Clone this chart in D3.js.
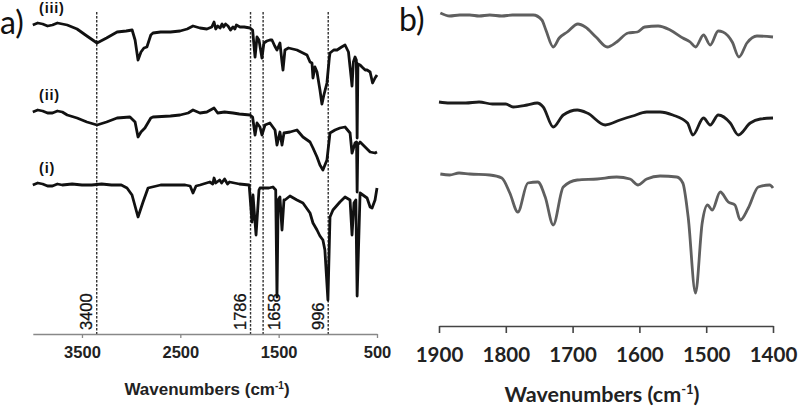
<!DOCTYPE html>
<html><head><meta charset="utf-8">
<script src="https://cdn.jsdelivr.net/npm/d3@7"></script>
<style>body{margin:0;background:#fff} svg{display:block}</style>
</head><body><svg id="c" width="800" height="408"></svg>
<script>
// ---------- DATA ----------
const ticksA = [3500, 2500, 1500, 500];
const ticksB = [1900, 1800, 1700, 1600, 1500, 1400];
const markerWn = [3350, 1786, 1658, 996];
const markerLabels = ["3400", "1786", "1658", "996"];
const seriesLabelsA = ["(iii)", "(ii)", "(i)"];
const axisTitle = "Wavenumbers (cm";

// panel a spectra: [wavenumber, stacked transmittance (a.u.)]
const specA_iii = [[4000,315],[3950,317],[3900,316],[3850,314],[3800,315],[3750,317],[3700,316],[3650,315],[3550,311],[3450,304],[3347,297],[3250,302],[3143,308],[3050,309],[2990,310],[2960,300],[2930,280],[2900,288],[2870,292],[2840,293],[2800,305],[2778,307],[2700,308],[2600,308],[2503,309],[2430,311],[2371,314],[2300,312],[2230,311],[2180,313],[2157,318],[2140,311],[2120,314],[2096,312],[2075,316],[2060,313],[2040,316],[2015,314],[1990,310],[1964,313],[1945,311],[1930,315],[1893,313],[1850,313],[1791,312],[1765,310],[1740,283],[1720,303],[1700,300],[1670,282],[1650,297],[1620,299],[1589,300],[1568,300],[1540,294],[1517,290],[1487,297],[1466,278],[1456,270],[1436,290],[1400,292],[1314,290],[1253,287],[1212,285],[1181,278],[1161,277],[1151,262],[1131,273],[1110,268],[1080,250],[1060,236],[1040,245],[1009,257],[985,282],[978,287],[940,290],[906,290],[860,293],[825,295],[790,288],[774,273],[760,260],[754,254],[740,278],[723,283],[710,280],[702,202],[694,276],[672,275],[652,273],[620,270],[601,270],[570,268],[545,257],[520,262],[500,265]];
const specA_ii = [[4000,228],[3950,230],[3900,229],[3850,227],[3800,227],[3750,229],[3700,228],[3650,225],[3550,222],[3450,218],[3347,215],[3250,218],[3143,222],[3012,223],[2960,218],[2930,203],[2900,208],[2860,212],[2800,222],[2778,223],[2600,224],[2503,225],[2420,227],[2371,230],[2300,227],[2230,228],[2157,232],[2120,227],[2050,228],[1964,227],[1900,226],[1791,225],[1765,223],[1740,205],[1720,217],[1690,213],[1670,205],[1639,215],[1589,217],[1537,210],[1517,195],[1487,208],[1466,195],[1446,207],[1385,208],[1314,210],[1253,203],[1181,198],[1151,192],[1110,183],[1080,175],[1050,170],[1009,180],[978,207],[927,210],[877,212],[825,213],[774,207],[754,187],[723,197],[708,198],[702,148],[695,195],[672,198],[621,193],[570,188],[520,187],[500,188]];
const specA_i = [[4000,155],[3950,157],[3900,156],[3850,154],[3800,154],[3750,156],[3700,155],[3600,156],[3500,155],[3400,155],[3300,156],[3200,155],[3100,155],[3042,152],[2991,145],[2930,123],[2879,138],[2828,152],[2700,155],[2600,155],[2450,155],[2400,154],[2371,147],[2340,154],[2300,155],[2200,158],[2170,156],[2157,162],[2140,157],[2100,160],[2080,157],[2050,161],[2020,156],[2000,158],[1900,156],[1800,155],[1771,118],[1761,145],[1730,105],[1700,150],[1690,152],[1600,152],[1558,153],[1530,150],[1517,43],[1505,140],[1487,143],[1466,110],[1446,140],[1436,140],[1385,144],[1314,140],[1253,137],[1181,127],[1151,117],[1110,110],[1080,104],[1050,100],[1030,90],[999,40],[978,123],[948,130],[877,138],[825,143],[774,140],[754,105],[734,137],[715,140],[702,44],[672,147],[601,142],[570,133],[550,132],[520,140],[500,152]];

// panel b spectra
const specB_top = [[1898,327],[1884,324],[1869,325],[1854,325],[1840,324],[1824,325],[1806,324],[1790,325],[1775,325],[1759,325],[1746,320],[1740,310],[1729,293],[1720,302],[1708,308],[1692,316],[1681,313],[1665,303],[1648,293],[1634,298],[1617,307],[1603,308],[1592,313],[1572,314],[1554,310],[1535,302],[1524,298],[1516,293],[1504,305],[1494,295],[1482,309],[1475,308],[1461,298],[1451,283],[1439,297],[1424,304],[1400,303]];
const specB_mid = [[1900,238],[1884,237],[1860,237],[1840,238],[1820,236],[1800,236],[1789,233],[1768,235],[1753,237],[1744,233],[1729,213],[1714,225],[1693,230],[1678,227],[1651,215],[1629,220],[1610,224],[1589,228],[1569,228],[1550,225],[1528,217],[1520,205],[1504,222],[1494,215],[1482,225],[1464,217],[1452,205],[1434,217],[1419,221],[1400,222]];
const specB_bot = [[1898,166],[1884,165],[1870,167],[1854,166],[1824,165],[1806,162],[1794,147],[1782,128],[1767,157],[1752,158],[1741,143],[1729,115],[1714,153],[1693,160],[1663,161],[1634,163],[1614,161],[1602,155],[1589,161],[1569,164],[1544,163],[1535,157],[1527,123],[1516,47],[1506,117],[1498,135],[1491,130],[1479,148],[1467,138],[1457,135],[1449,120],[1437,132],[1422,153],[1405,155],[1400,152]];

// ---------- RENDER ----------
const svg = d3.select("#c");
const fontA = "'Liberation Sans', Arial, sans-serif";
const fontB = "Lato, 'Open Sans', sans-serif";

const xA = d3.scaleLinear().domain([4000, 500]).range([32.8, 377]);
const yA = d3.scaleLinear().domain([0, 340]).range([340, 0]);
const xB = d3.scaleLinear().domain([1900, 1400]).range([439, 773]);
const yB = d3.scaleLinear().domain([0, 340]).range([340, 0]);

// dashed markers
const gm = svg.append("g");
markerWn.forEach((w, i) => {
  const x = xA(w);
  gm.append("line").attr("x1", x).attr("x2", x).attr("y1", 12).attr("y2", 334)
    .attr("stroke", "#333").attr("stroke-width", 1.4).attr("stroke-dasharray", "2.5,1.5");
  const right = markerLabels[i] === "1658";
  const bx = right ? x + 16.5 : x - 4.5;
  gm.append("text").attr("transform", `translate(${bx},330) rotate(-90)`)
    .attr("font-family", fontA).attr("font-size", 16.5).attr("fill", "#111")
    .attr("stroke", "#111").attr("stroke-width", 0.3)
    .text(markerLabels[i]);
});

// panel a lines
const lineA = d3.line().x(d => xA(d[0])).y(d => yA(d[1]));
const seriesA = [specA_iii, specA_ii, specA_i];
seriesA.forEach((s, i) => {
  svg.append("path").datum(s).attr("d", lineA).attr("fill", "none")
    .attr("stroke", "#111").attr("stroke-width", 2.8).attr("stroke-linejoin", "round");
  svg.append("text").attr("x", 39).attr("y", yA(s[0][1]) - 12)
    .attr("font-family", fontA).attr("font-weight", "bold").attr("font-size", 14.5)
    .attr("letter-spacing", 0.8).attr("fill", "#111").text(seriesLabelsA[i]);
});

// axis a
const axA = svg.append("g").attr("transform", "translate(0,334)")
  .call(d3.axisBottom(xA).tickValues(ticksA).tickSize(4).tickSizeOuter(0).tickPadding(8).tickFormat(d3.format("d")));
axA.select(".domain").attr("stroke", "#888").attr("stroke-width", 1.3);
axA.selectAll(".tick line").attr("stroke", "#888").attr("stroke-width", 1.3);
axA.selectAll(".tick text").attr("font-family", fontA).attr("font-weight", "bold")
  .attr("font-size", 16.5).attr("fill", "#222");

const tA = svg.append("text").attr("x", 207).attr("y", 395).attr("text-anchor", "middle")
  .attr("font-family", fontA).attr("font-weight", "bold").attr("font-size", 17).attr("fill", "#222");
tA.append("tspan").text(axisTitle);
tA.append("tspan").attr("font-size", 10).attr("dy", -6).text("-1");
tA.append("tspan").attr("dy", 6).text(")");

// panel b lines
const lineB = d3.line().x(d => xB(d[0])).y(d => yB(d[1])).curve(d3.curveMonotoneX);
const seriesB = [specB_top, specB_mid, specB_bot];
const colB = ["#5f5f5f", "#1c1c1c", "#5f5f5f"];
seriesB.forEach((s, i) => {
  svg.append("path").datum(s).attr("d", lineB).attr("fill", "none")
    .attr("stroke", colB[i]).attr("stroke-width", 2.8).attr("stroke-linejoin", "round");
});

const axB = svg.append("g").attr("transform", "translate(0,326)")
  .call(d3.axisBottom(xB).tickValues(ticksB).tickSize(7).tickSizeOuter(0).tickPadding(14).tickFormat(d3.format("d")));
axB.select(".domain").attr("stroke", "#444").attr("stroke-width", 1.6);
axB.selectAll(".tick line").attr("stroke", "#444").attr("stroke-width", 1.6);
axB.selectAll(".tick text").attr("font-family", fontB).attr("font-weight", "bold")
  .attr("font-size", 20.5).attr("fill", "#222");

const tB = svg.append("text").attr("x", 602).attr("y", 402).attr("text-anchor", "middle")
  .attr("font-family", fontB).attr("font-weight", "bold").attr("font-size", 21.5).attr("fill", "#222");
tB.append("tspan").text(axisTitle);
tB.append("tspan").attr("font-size", 13).attr("dy", -8).text("-1");
tB.append("tspan").attr("dy", 8).text(")");

// panel letters
svg.append("text").attr("x", 0).attr("y", 34).attr("font-family", fontB)
  .attr("font-size", 32).attr("fill", "#111").text("a)");
svg.append("text").attr("x", 399).attr("y", 31).attr("font-family", fontB)
  .attr("font-size", 32).attr("fill", "#111").text("b)");
</script></body></html>
